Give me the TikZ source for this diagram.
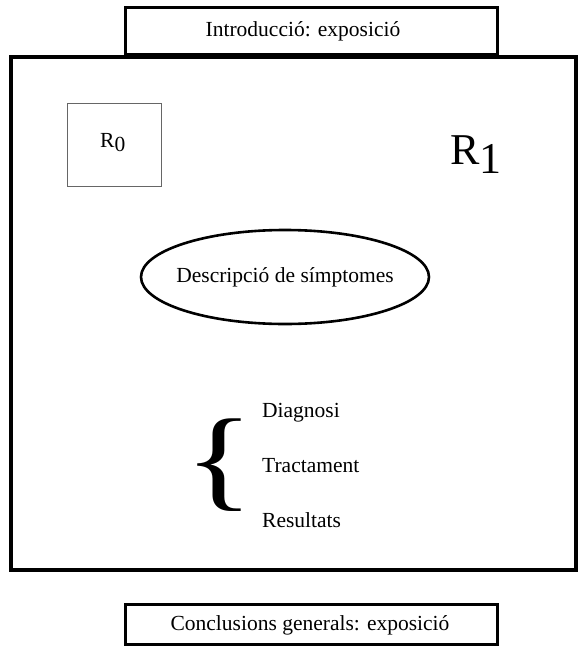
\documentclass[tikz,border=0pt]{standalone}
\usepackage{fontspec}
\setmainfont{Liberation Serif}
\tikzset{
  txt/.style={font=\fontsize{21.5}{24}\selectfont, inner sep=0pt},
  heavy/.style={draw=black, line width=3pt},
  frame/.style={draw=black, line width=3.4pt},
  thin/.style={draw=black!60, line width=1pt},
}
\newcommand{\lowsub}[1]{\raisebox{-0.45ex}{#1}}
\begin{document}
\begin{tikzpicture}[x=1pt, y=-1pt]
\useasboundingbox (0,0) rectangle (587,648);
% main frame
\draw[frame] (11,57) rectangle (576,570);
% header and footer boxes
\draw[heavy, fill=white] (125,7) rectangle (497,54);
\node[txt] (intro) at (303,31) {Introducció: exposició};
\draw[heavy] (125,604) rectangle (497,644);
\node[txt] (concl) at (310,625) {Conclusions generals: exposició};
% R0 box
\draw[thin] (67,103) rectangle (161,186);
\node[txt, anchor=base west] (r0) at (100,147) {R\lowsub{0}};
% R1 label
\node[font=\fontsize{44}{48}\selectfont, inner sep=0pt, anchor=base west] (r1) at (450,164) {R\lowsub{1}};
% central ellipse around the text
\node[txt] (sym) at (285,277) {Descripció de símptomes};
\draw[line width=2.6pt] (sym.center) ellipse [x radius=144, y radius=47];
% brace and list
\node[inner sep=0pt, xscale=1.3, font=\fontsize{112}{112}\selectfont] (br) at (219,465) {\{};
\node[txt, anchor=base west] (d1) at (262,417) {Diagnosi};
\node[txt, anchor=base west] (d2) at (262,472) {Tractament};
\node[txt, anchor=base west] (d3) at (262,527) {Resultats};
\end{tikzpicture}
\end{document}
